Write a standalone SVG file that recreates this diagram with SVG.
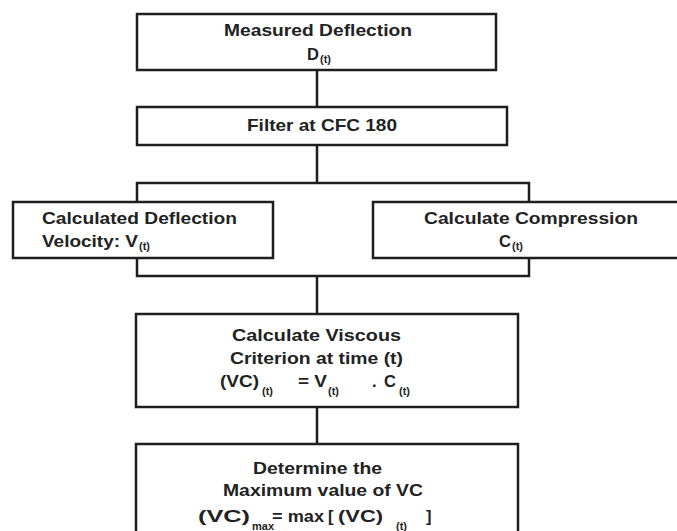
<svg xmlns="http://www.w3.org/2000/svg" width="677" height="531" viewBox="0 0 677 531">
<style>
.box{fill:#fff;stroke:#1e1e1e;stroke-width:2.5}
.ln{fill:none;stroke:#1e1e1e;stroke-width:2.5}
text{font-family:"Liberation Sans",Arial,sans-serif;font-weight:bold;font-size:16.5px;fill:#222}
.s{font-size:11px}
</style>
<rect width="677" height="531" fill="#fff"/>
<g id="connectors">
<line class="ln" x1="317" y1="70" x2="317" y2="107"/>
<line class="ln" x1="317" y1="145" x2="317" y2="183"/>
<polyline class="ln" points="137,202 137,183 529,183 529,202"/>
<polyline class="ln" points="137,258 137,276 529,276 529,258"/>
<line class="ln" x1="317" y1="276" x2="317" y2="314"/>
<line class="ln" x1="317" y1="407" x2="317" y2="444"/>
</g>
<g id="measured">
<rect class="box" x="137" y="14" width="359" height="56"/>
<text x="224" y="36" textLength="188" lengthAdjust="spacingAndGlyphs">Measured Deflection</text>
<text x="307" y="60">D</text><text class="s" x="320" y="63">(t)</text>
</g>
<g id="filter">
<rect class="box" x="137" y="107" width="370" height="38"/>
<text x="247" y="131" textLength="150" lengthAdjust="spacingAndGlyphs">Filter at CFC 180</text>
</g>
<g id="velocity">
<rect class="box" x="13" y="202" width="260" height="56"/>
<text x="42" y="224" textLength="195" lengthAdjust="spacingAndGlyphs">Calculated Deflection</text>
<text x="42" y="247" textLength="96" lengthAdjust="spacingAndGlyphs">Velocity: V</text><text class="s" x="139" y="250">(t)</text>
</g>
<g id="compression">
<rect class="box" x="373" y="202" width="320" height="56"/>
<text x="424" y="224" textLength="214" lengthAdjust="spacingAndGlyphs">Calculate Compression</text>
<text x="499" y="247">C</text><text class="s" x="512" y="250">(t)</text>
</g>
<g id="viscous">
<rect class="box" x="136" y="314" width="382" height="93"/>
<text x="232" y="341" textLength="169" lengthAdjust="spacingAndGlyphs">Calculate Viscous</text>
<text x="230" y="364" textLength="173" lengthAdjust="spacingAndGlyphs">Criterion at time (t)</text>
<text x="220" y="387" textLength="39" lengthAdjust="spacingAndGlyphs">(VC)</text>
<text class="s" x="262" y="395">(t)</text>
<text x="298" y="387" textLength="29" lengthAdjust="spacingAndGlyphs">= V</text>
<text class="s" x="328" y="395">(t)</text>
<text x="372" y="387">.</text>
<text x="384" y="387">C</text>
<text class="s" x="399" y="395">(t)</text>
</g>
<g id="maximum">
<rect class="box" x="136" y="444" width="382" height="100"/>
<text x="253" y="474" textLength="129" lengthAdjust="spacingAndGlyphs">Determine the</text>
<text x="223" y="496" textLength="200" lengthAdjust="spacingAndGlyphs">Maximum value of VC</text>
<text x="198" y="522" textLength="52" lengthAdjust="spacingAndGlyphs">(VC)</text>
<text class="s" x="252" y="530">max</text>
<text x="272" y="522" textLength="52" lengthAdjust="spacingAndGlyphs">= max</text>
<text x="328" y="522">[</text>
<text x="338" y="522" textLength="45" lengthAdjust="spacingAndGlyphs">(VC)</text>
<text class="s" x="396" y="530">(t)</text>
<text x="426" y="522">]</text>
</g>
</svg>
